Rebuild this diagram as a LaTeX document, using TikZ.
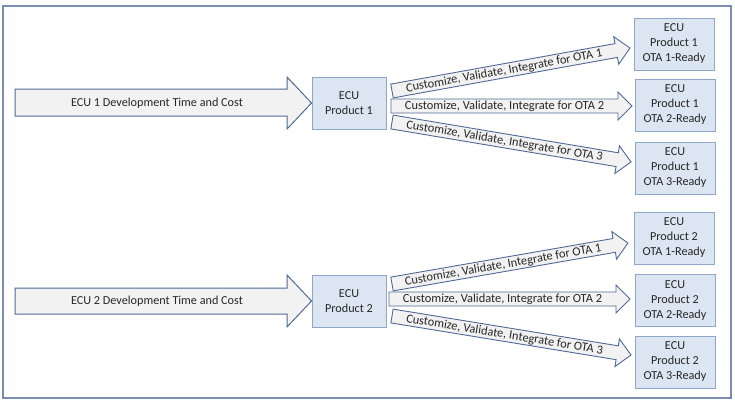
\documentclass[tikz,border=0pt]{standalone}
\usepackage{fontspec}
\setmainfont{Carlito}
\definecolor{boxfill}{HTML}{DCE6F2}
\definecolor{boxdraw}{HTML}{8EA7C9}
\definecolor{arrfill}{HTML}{F2F2F2}
\definecolor{arrdraw}{HTML}{4F6A94}
\definecolor{framec}{HTML}{7A8CB2}
\definecolor{txt}{HTML}{262626}
\tikzset{
  ecubox/.style={draw=boxdraw, fill=boxfill, line width=0.9pt, minimum width=74pt, minimum height=52pt, align=center, text=txt, font=\fontsize{12.2}{14.5}\selectfont, inner sep=0pt},
  otabox/.style={ecubox, minimum width=80pt, font=\fontsize{12.2}{15}\selectfont},
  bigarr/.style={draw=arrdraw, fill=arrfill, line width=1pt, line join=miter},
  thinarr/.style={draw=arrdraw, fill=arrfill, line width=0.9pt, line join=miter},
  bigtext/.style={text=txt, font=\fontsize{12.2}{14}\selectfont, inner sep=0pt},
  arrtext/.style={text=txt, font=\fontsize{12.4}{14}\selectfont, inner sep=0pt},
}
\newcommand{\slantarrow}[5]{%
  \begin{scope}[shift={(#2)}, rotate=#3, x=1pt, y=1pt]
    \pgfmathsetmacro{\mybase}{#4-14}
    \pgfmathsetmacro{\mymid}{(#4-14)/2}
    \draw[thinarr] (0,7) -- (\mybase,7) -- (\mybase,14) -- (#4,0) -- (\mybase,-14) -- (\mybase,-7) -- (0,-7) -- cycle;
    \node[arrtext, transform shape] (#1) at (\mymid,-0.5) {#5};
  \end{scope}}
\begin{document}
\begin{tikzpicture}[x=1pt, y=-1pt]
\useasboundingbox (0,0) rectangle (735,402);
\draw[framec, line width=1.5pt] (3,6) rectangle (731,398);

% ECU product boxes
\node[ecubox] (ecu1) at (349,103) {ECU\\Product 1};
\node[ecubox] (ecu2) at (349,301) {ECU\\Product 2};

% OTA-ready boxes
\node[otabox] (o11) at (674,44) {ECU\\Product 1\\OTA 1-Ready};
\node[otabox] (o12) at (675,105) {ECU\\Product 1\\OTA 2-Ready};
\node[otabox] (o13) at (675,168) {ECU\\Product 1\\OTA 3-Ready};
\node[otabox] (o21) at (674,238) {ECU\\Product 2\\OTA 1-Ready};
\node[otabox] (o22) at (675,300.5) {ECU\\Product 2\\OTA 2-Ready};
\node[otabox] (o23) at (675,362) {ECU\\Product 2\\OTA 3-Ready};

% big development arrows
\draw[bigarr] (15,89) -- (287,89) -- (287,77) -- (ecu1.west) -- (287,129) -- (287,116) -- (15,116) -- cycle;
\node[bigtext] (d1) at (157,103) {ECU 1 Development Time and Cost};
\draw[bigarr] (15,288) -- (287,288) -- (287,275) -- (ecu2.west) -- (287,327) -- (287,314) -- (15,314) -- cycle;
\node[bigtext] (d2) at (157,301) {ECU 2 Development Time and Cost};

% start points of the customization arrows
\coordinate (s11) at (392,91);
\coordinate (s12) at (391,106);
\coordinate (s13) at (392,122);
\coordinate (s21) at (392,284);
\coordinate (s22) at (389,299);
\coordinate (s23) at (392,316);

\slantarrow{a11}{s11}{10.24}{241.85}{Customize, Validate, Integrate for OTA 1}
\slantarrow{a12}{s12}{0}{241}{Customize, Validate, Integrate for OTA 2}
\slantarrow{a13}{s13}{-9.50}{242.33}{Customize, Validate, Integrate for OTA 3}
\slantarrow{a21}{s21}{9.86}{239.5}{Customize, Validate, Integrate for OTA 1}
\slantarrow{a22}{s22}{0}{241}{Customize, Validate, Integrate for OTA 2}
\slantarrow{a23}{s23}{-9.27}{242.2}{Customize, Validate, Integrate for OTA 3}
\end{tikzpicture}
\end{document}
